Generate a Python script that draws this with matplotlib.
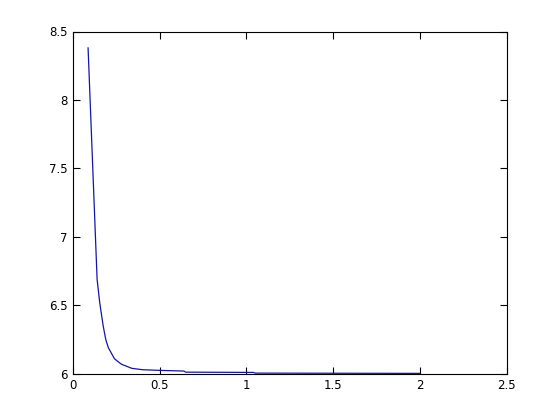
import matplotlib
matplotlib.use("Agg")
import matplotlib.pyplot as plt

# values
x_vals = [0.088, 0.14, 0.155, 0.175, 0.19, 0.205, 0.24, 0.28, 0.34, 0.40, 0.50, 0.64, 0.65, 1.04, 1.05, 2.0]
y_vals = [8.38, 6.69, 6.52, 6.35, 6.25, 6.19, 6.11, 6.07, 6.04, 6.03, 6.025, 6.02, 6.012, 6.01, 6.005, 6.003]
x_ticks = [0, 0.5, 1, 1.5, 2, 2.5]
y_ticks = [6, 6.5, 7, 7.5, 8, 8.5]

fig = plt.figure(figsize=(5.6, 4.2), dpi=100)
ax = fig.add_axes([0.13, 0.11, 0.775, 0.815])  # matlab default axes position
ax.plot(x_vals, y_vals, color="#1414a8", linewidth=0.9)

ax.set_xlim(0, 2.5)
ax.set_ylim(6, 8.5)
ax.set_xticks(x_ticks)
ax.set_yticks(y_ticks)
ax.set_xticklabels(["0", "0.5", "1", "1.5", "2", "2.5"])
ax.set_yticklabels(["6", "6.5", "7", "7.5", "8", "8.5"])
ax.tick_params(direction="in", top=True, right=True, length=5, width=0.8, labelsize=8.5)
for s in ax.spines.values():
    s.set_linewidth(0.8)

fig.savefig("out.png", dpi=100)
